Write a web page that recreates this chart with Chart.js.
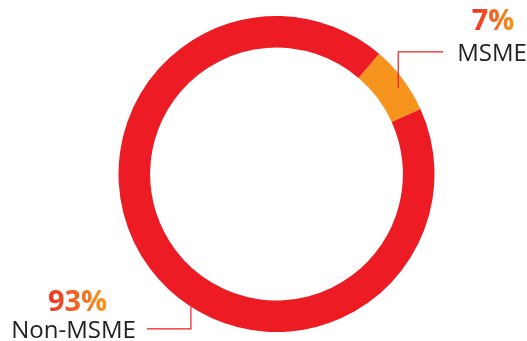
<!DOCTYPE html>
<html>
<head>
<meta charset="utf-8">
<script src="https://cdn.jsdelivr.net/npm/chart.js@4/dist/chart.umd.min.js"></script>
<style>
html,body{margin:0;padding:0;background:#fff;}
#wrap{width:527px;height:341px;position:relative;}
</style>
</head>
<body>
<div id="wrap"><canvas id="c" width="527" height="341"></canvas></div>
<script>
const categories = ["MSME", "Non-MSME"];
const shares = [7, 93];
const percentLabels = ["7%", "93%"];
const colors = ["#F7941D", "#ED1C24"];

const calloutPlugin = {
  id: 'callouts',
  afterDraw(chart, args, opts) {
    const ctx = chart.ctx;
    const meta = chart.getDatasetMeta(0);
    opts.items.forEach(it => {
      const arc = meta.data[it.index];
      const cx = arc.x, cy = arc.y;
      const r = arc.innerRadius + (arc.outerRadius - arc.innerRadius) * it.radiusFrac;
      const a = (it.angleDeg - 90) * Math.PI / 180;
      const ax = cx + r * Math.cos(a), ay = cy + r * Math.sin(a);
      const ky = ay + it.dy, kx = ax + it.dx;
      ctx.save();
      ctx.strokeStyle = '#ED1C24';
      ctx.lineWidth = 1.2;
      ctx.beginPath();
      ctx.moveTo(ax, ay); ctx.lineTo(ax, ky); ctx.lineTo(kx, ky);
      ctx.stroke();
      // category label
      ctx.font = '24px "Open Sans"';
      ctx.fillStyle = '#231F20';
      ctx.textBaseline = 'alphabetic';
      const label = categories[it.index];
      const lw = ctx.measureText(label).width;
      let lx;
      if (it.dx > 0) { ctx.textAlign = 'left'; lx = kx + it.gap; }
      else { ctx.textAlign = 'right'; lx = kx - it.gap; }
      ctx.fillText(label, lx, ky + 9);
      const centerX = it.dx > 0 ? lx + lw / 2 : lx - lw / 2;
      // percentage
      ctx.font = 'bold 29px "Open Sans"';
      const pct = percentLabels[it.index];
      const pw = ctx.measureText(pct).width;
      const grad = ctx.createLinearGradient(centerX - pw / 2, 0, centerX + pw / 2, 0);
      grad.addColorStop(0, '#EE2A24');
      grad.addColorStop(1, '#F7941D');
      ctx.fillStyle = grad;
      ctx.textAlign = 'center';
      ctx.fillText(pct, centerX + it.pctShift, ky + it.pctDy);
      ctx.restore();
    });
  }
};

new Chart(document.getElementById('c'), {
  type: 'doughnut',
  data: {
    labels: categories,
    datasets: [{
      data: shares,
      backgroundColor: colors,
      borderWidth: 0,
      hoverOffset: 0
    }]
  },
  options: {
    responsive: false,
    animation: false,
    rotation: 40.5,
    cutout: '80%',
    layout: { padding: { left: 118, right: 92, top: 16, bottom: 9 } },
    plugins: {
      legend: { display: false },
      tooltip: { enabled: false },
      callouts: {
        items: [
          { index: 0, angleDeg: 54.7, radiusFrac: 0.72, dy: -36, dx: 45, gap: 14, pctDy: -22, pctShift: 1 },
          { index: 1, angleDeg: 212.8, radiusFrac: 1.0, dy: 22, dx: -44, gap: 11, pctDy: -18, pctShift: 4 }
        ]
      }
    }
  },
  plugins: [calloutPlugin]
});
</script>
</body>
</html>
